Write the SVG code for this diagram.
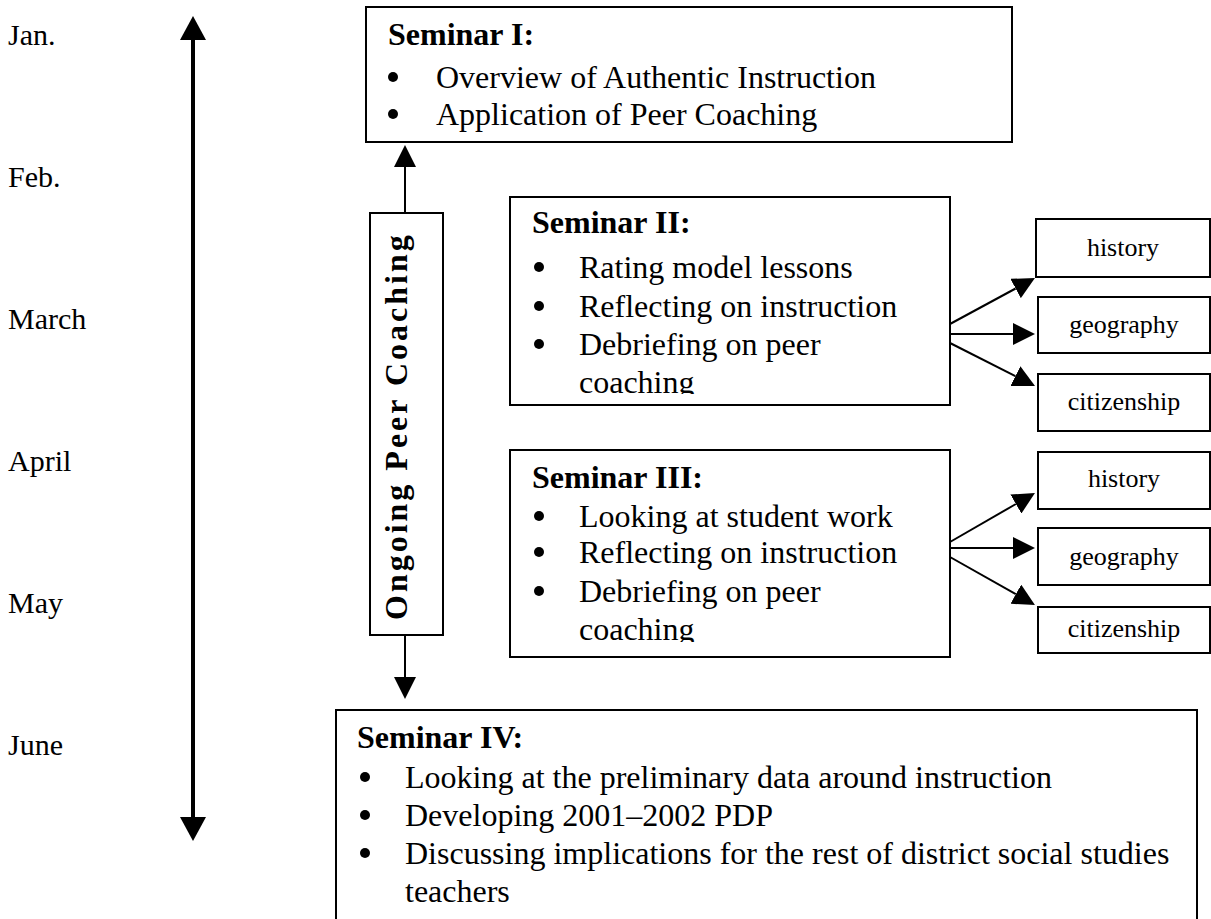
<svg xmlns="http://www.w3.org/2000/svg" width="1211" height="919" viewBox="0 0 1211 919">
<style>
.box{fill:#fff;stroke:#000;stroke-width:2}
.hdr{font-family:"Liberation Serif","Times New Roman",serif;font-weight:bold;font-size:32px;fill:#000}
.txt{font-family:"Liberation Serif","Times New Roman",serif;font-size:32px;fill:#000}
.sm{font-family:"Liberation Serif","Times New Roman",serif;font-size:26px;fill:#000;text-anchor:middle}
.mon{font-family:"Liberation Serif","Times New Roman",serif;font-size:30px;fill:#000}
.vt{font-family:"Liberation Serif","Times New Roman",serif;font-weight:bold;font-size:32px;letter-spacing:3px;fill:#000}
.dot{fill:#000}
.conn{stroke:#000;stroke-width:2;fill:none;marker-end:url(#ah)}
.tl{stroke:#000;stroke-width:4;fill:none;marker-start:url(#bh);marker-end:url(#bh)}
</style>
<defs>
<marker id="ah" markerUnits="userSpaceOnUse" markerWidth="22" markerHeight="22" refX="0" refY="11" orient="auto" viewBox="0 0 22 22"><path d="M0,0 L22,11 L0,22 Z" fill="#000"/></marker>
<marker id="bh" markerUnits="userSpaceOnUse" markerWidth="24" markerHeight="26" refX="0" refY="13" orient="auto-start-reverse" viewBox="0 0 24 26"><path d="M0,0 L24,13 L0,26 Z" fill="#000"/></marker>
<clipPath id="c2"><rect x="510" y="197" width="440" height="197"/></clipPath>
<clipPath id="c3"><rect x="510" y="450" width="440" height="192"/></clipPath>
</defs>

<g id="months">
<text class="mon" x="8" y="45">Jan.</text>
<text class="mon" x="8" y="187">Feb.</text>
<text class="mon" x="8" y="329">March</text>
<text class="mon" x="8" y="471">April</text>
<text class="mon" x="8" y="613">May</text>
<text class="mon" x="8" y="755">June</text>
</g>

<g id="connectors">
<line class="tl" x1="193" y1="40" x2="193" y2="817"/>
<line class="conn" x1="405" y1="213" x2="405" y2="167"/>
<line class="conn" x1="405" y1="635" x2="405" y2="677"/>
<line class="conn" x1="950" y1="324" x2="1015.6" y2="288.5"/>
<line class="conn" x1="950" y1="334" x2="1013" y2="334"/>
<line class="conn" x1="950" y1="343" x2="1015.4" y2="376.1"/>
<line class="conn" x1="950" y1="542" x2="1015.9" y2="504"/>
<line class="conn" x1="950" y1="548" x2="1013" y2="548"/>
<line class="conn" x1="950" y1="557" x2="1015.8" y2="594.2"/>
</g>

<g id="seminar1">
<rect class="box" x="366" y="7" width="646" height="135"/>
<text class="hdr" x="388" y="45">Seminar I:</text>
<circle class="dot" cx="393" cy="77" r="5"/>
<text class="txt" x="436" y="88">Overview of Authentic Instruction</text>
<circle class="dot" cx="393" cy="114" r="5"/>
<text class="txt" x="436" y="125">Application of Peer Coaching</text>
</g>

<g id="ongoing">
<rect class="box" x="370" y="213" width="73" height="422"/>
<text class="vt" transform="translate(407,620) rotate(-90)">Ongoing Peer Coaching</text>
</g>

<g id="seminar2">
<rect class="box" x="510" y="197" width="440" height="208"/>
<g clip-path="url(#c2)">
<text class="hdr" x="532" y="233">Seminar II:</text>
<circle class="dot" cx="539" cy="267" r="5"/>
<text class="txt" x="579" y="278">Rating model lessons</text>
<circle class="dot" cx="539" cy="306" r="5"/>
<text class="txt" x="579" y="317">Reflecting on instruction</text>
<circle class="dot" cx="539" cy="344" r="5"/>
<text class="txt" x="579" y="355">Debriefing on peer</text>
<text class="txt" x="579" y="393">coaching</text>
</g>
</g>

<g id="seminar3">
<rect class="box" x="510" y="450" width="440" height="207"/>
<g clip-path="url(#c3)">
<text class="hdr" x="532" y="488">Seminar III:</text>
<circle class="dot" cx="539" cy="516" r="5"/>
<text class="txt" x="579" y="527">Looking at student work</text>
<circle class="dot" cx="539" cy="552" r="5"/>
<text class="txt" x="579" y="563">Reflecting on instruction</text>
<circle class="dot" cx="539" cy="591" r="5"/>
<text class="txt" x="579" y="602">Debriefing on peer</text>
<text class="txt" x="579" y="640">coaching</text>
</g>
</g>

<g id="sub2-history"><rect class="box" x="1036" y="219" width="174" height="58"/><text class="sm" x="1123" y="256">history</text></g>
<g id="sub2-geography"><rect class="box" x="1038" y="297" width="172" height="56"/><text class="sm" x="1124" y="333">geography</text></g>
<g id="sub2-citizenship"><rect class="box" x="1038" y="374" width="172" height="57"/><text class="sm" x="1124" y="410">citizenship</text></g>
<g id="sub3-history"><rect class="box" x="1038" y="452" width="172" height="57"/><text class="sm" x="1124" y="487">history</text></g>
<g id="sub3-geography"><rect class="box" x="1038" y="528" width="172" height="57"/><text class="sm" x="1124" y="565">geography</text></g>
<g id="sub3-citizenship"><rect class="box" x="1038" y="607" width="172" height="46"/><text class="sm" x="1124" y="637">citizenship</text></g>

<g id="seminar4">
<rect class="box" x="336" y="710" width="861" height="230"/>
<text class="hdr" x="357" y="748">Seminar IV:</text>
<circle class="dot" cx="365" cy="777" r="5"/>
<text class="txt" x="405" y="788">Looking at the preliminary data around instruction</text>
<circle class="dot" cx="365" cy="815" r="5"/>
<text class="txt" x="405" y="826">Developing 2001–2002 PDP</text>
<circle class="dot" cx="365" cy="853" r="5"/>
<text class="txt" x="405" y="864">Discussing implications for the rest of district social studies</text>
<text class="txt" x="405" y="902">teachers</text>
</g>
</svg>
